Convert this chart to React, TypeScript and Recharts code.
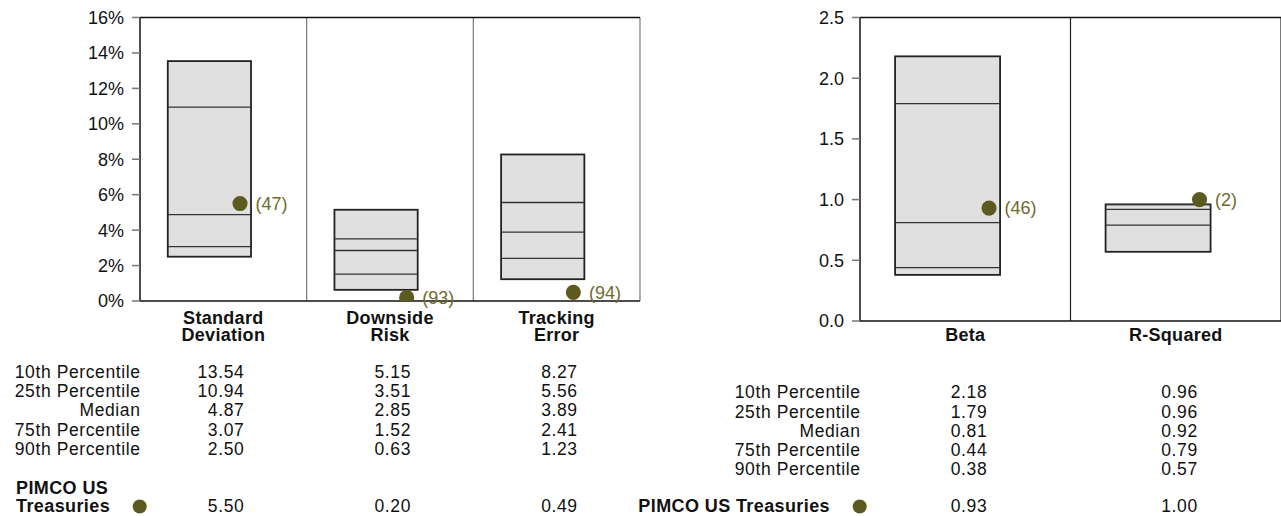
import {
  Bar,
  CartesianGrid,
  ComposedChart,
  LabelList,
  ReferenceLine,
  Scatter,
  XAxis,
  YAxis,
  ZAxis,
} from "recharts";

// risk panel (percent)
const riskNames = ["Standard Deviation", "Downside Risk", "Tracking Error"];
const riskP10 = [13.54, 5.15, 8.27];
const riskP25 = [10.94, 3.51, 5.56];
const riskMedian = [4.87, 2.85, 3.89];
const riskP75 = [3.07, 1.52, 2.41];
const riskP90 = [2.5, 0.63, 1.23];
const riskFund = [5.5, 0.2, 0.49];
const riskRank = [47, 93, 94];
const riskTicks = [0, 2, 4, 6, 8, 10, 12, 14, 16];

// ratio panel
const ratioNames = ["Beta", "R-Squared"];
const ratioP10 = [2.18, 0.96];
const ratioP25 = [1.79, 0.96];
const ratioMedian = [0.81, 0.92];
const ratioP75 = [0.44, 0.79];
const ratioP90 = [0.38, 0.57];
const ratioFund = [0.93, 1.0];
const ratioRank = [46, 2];
const ratioTicks = [0, 0.5, 1, 1.5, 2, 2.5];

const rowLabels = ["10th Percentile", "25th Percentile", "Median", "75th Percentile", "90th Percentile"];
const fundName = "PIMCO US Treasuries";

const FONT = "'Liberation Sans', Arial, Helvetica, sans-serif";
const OLIVE = "#5d5a1f";
const OLIVE_TEXT = "#6d6b2b";
const BOX_FILL = "#e0e0e0";

type Row = { name: string; p10: number; p25: number; median: number; p75: number; p90: number };

function BoxShape(props: any) {
  const { x, y, width, height, payload } = props;
  const top = Math.min(y, y + height);
  const h = Math.abs(height);
  const w = width * 0.75;
  const span = payload.p10 - payload.p90;
  const yOf = (v: number) => top + (h * (payload.p10 - v)) / span;
  return (
    <g>
      <rect x={x} y={top} width={w} height={h} fill={BOX_FILL} stroke="#222" strokeWidth={1.8} />
      {[payload.p25, payload.median, payload.p75].map((v: number, i: number) => (
        <line key={i} x1={x} x2={x + w} y1={yOf(v)} y2={yOf(v)} stroke="#333" strokeWidth={1.3} />
      ))}
    </g>
  );
}

function CategoryTick({ x, y, payload, firstDy }: any) {
  const words = String(payload.value).split(" ");
  return (
    <text x={x} y={y + firstDy} textAnchor="middle" fontSize={18} fontWeight="bold" fill="#111" letterSpacing={0.3}>
      {words.map((w, i) => (
        <tspan key={i} x={x} dy={i === 0 ? 0 : 17.6}>
          {w}
        </tspan>
      ))}
    </text>
  );
}

function Panel({
  names, p10, p25, median, p75, p90, fund, rank, ticks, fmt,
  left, width, height, axisWidth, dividerColor, labelDy, dotPos,
}: any) {
  const rows: Row[] = names.map((n: string, i: number) => ({
    name: n, p10: p10[i], p25: p25[i], median: median[i], p75: p75[i], p90: p90[i],
  }));
  const points = fund.map((v: number, i: number) => ({ x: i + dotPos, y: v, rank: rank[i] }));
  const n = names.length;
  return (
    <div style={{ position: "absolute", left, top: 0 }}>
      <ComposedChart
        width={width}
        height={height}
        data={rows}
        margin={{ top: 17.5, right: 1, bottom: 4, left: 0 }}
        barCategoryGap="16.667%"
      >
        <CartesianGrid
          horizontal={false}
          stroke={dividerColor}
          strokeWidth={1.2}
          verticalCoordinatesGenerator={({ offset }: any) =>
            Array.from({ length: n }, (_, i) => offset.left + ((i + 1) * offset.width) / n)
          }
        />
        <XAxis
          dataKey="name"
          interval={0}
          height={50}
          tickSize={0}
          tickLine={false}
          axisLine={{ stroke: "#111", strokeWidth: 1.5 }}
          tick={<CategoryTick firstDy={labelDy} />}
        />
        <XAxis xAxisId="pt" type="number" dataKey="x" domain={[0, n]} hide allowDataOverflow />
        <YAxis
          width={axisWidth}
          domain={[ticks[0], ticks[ticks.length - 1]]}
          ticks={ticks}
          tickFormatter={fmt}
          tickSize={8}
          tickMargin={8}
          tick={{ fontSize: 18, fill: "#111" }}
          tickLine={{ stroke: "#777", strokeWidth: 1.5 }}
          axisLine={{ stroke: "#111", strokeWidth: 1.5 }}
          allowDataOverflow
        />
        <ZAxis range={[180, 180]} />
        <ReferenceLine y={ticks[ticks.length - 1]} stroke="#111" strokeWidth={1.5} />
        <Bar dataKey={(d: Row) => [d.p90, d.p10]} shape={<BoxShape />} isAnimationActive={false} />
        <Scatter data={points} dataKey="y" xAxisId="pt" fill={OLIVE} isAnimationActive={false}>
          <LabelList
            dataKey="rank"
            position="right"
            offset={8}
            formatter={(v: any) => `(${v})`}
            style={{ fontSize: 18, fill: OLIVE_TEXT }}
          />
        </Scatter>
      </ComposedChart>
    </div>
  );
}

function Tables() {
  const rowStep = 19.2;
  const lp = { x: 140, w: 500, n: 3 };
  const rp = { x: 860, w: 421, n: 2 };
  const leftCols = [riskP10, riskP25, riskMedian, riskP75, riskP90];
  const rightCols = [ratioP10, ratioP25, ratioMedian, ratioP75, ratioP90];
  const colRight = (p: typeof lp, i: number, shift: number) => p.x + ((i + 0.5) * p.w) / p.n + shift;
  const reg = { fontSize: 17.5, letterSpacing: 0.6, fill: "#111" };
  const bold = { fontSize: 18, fontWeight: "bold" as const, letterSpacing: 0.4, fill: "#111" };
  const split = fundName.lastIndexOf(" ");
  return (
    <svg width={1281} height={516} style={{ position: "absolute", left: 0, top: 0, pointerEvents: "none" }}>
      {rowLabels.map((lab, k) => (
        <g key={"l" + k}>
          <text x={lp.x + 0.5} y={378 + k * rowStep} textAnchor="end" {...reg}>{lab}</text>
          {leftCols[k].map((v, i) => (
            <text key={i} x={colRight(lp, i, 21)} y={378 + k * rowStep} textAnchor="end" {...reg}>
              {v.toFixed(2)}
            </text>
          ))}
          <text x={rp.x + 0.5} y={398.3 + k * rowStep} textAnchor="end" {...reg}>{lab}</text>
          {rightCols[k].map((v, i) => (
            <text key={i} x={colRight(rp, i, 22)} y={398.3 + k * rowStep} textAnchor="end" {...reg}>
              {v.toFixed(2)}
            </text>
          ))}
        </g>
      ))}
      <text x={16} y={494.3} {...bold}>{fundName.slice(0, split)}</text>
      <text x={16} y={512.3} {...bold}>{fundName.slice(split + 1)}</text>
      <circle cx={139.7} cy={506.5} r={7} fill={OLIVE} />
      {riskFund.map((v, i) => (
        <text key={"lf" + i} x={colRight(lp, i, 21)} y={512} textAnchor="end" {...reg}>{v.toFixed(2)}</text>
      ))}
      <text x={830} y={512} textAnchor="end" {...bold}>{fundName}</text>
      <circle cx={859.7} cy={506.5} r={7} fill={OLIVE} />
      {ratioFund.map((v, i) => (
        <text key={"rf" + i} x={colRight(rp, i, 22)} y={512} textAnchor="end" {...reg}>{v.toFixed(2)}</text>
      ))}
    </svg>
  );
}

export default function App() {
  return (
    <div style={{ position: "relative", width: 1281, height: 516, overflow: "hidden", background: "#fff", fontFamily: FONT }}>
      <style>{"body{margin:0}"}</style>
      <Panel
        names={riskNames} p10={riskP10} p25={riskP25} median={riskMedian} p75={riskP75} p90={riskP90}
        fund={riskFund} rank={riskRank} ticks={riskTicks} fmt={(v: number) => `${v}%`}
        left={0} width={641} height={355} axisWidth={140} dividerColor="#777" labelDy={20.7} dotPos={0.6}
      />
      <Panel
        names={ratioNames} p10={ratioP10} p25={ratioP25} median={ratioMedian} p75={ratioP75} p90={ratioP90}
        fund={ratioFund} rank={ratioRank} ticks={ratioTicks} fmt={(v: number) => v.toFixed(1)}
        left={640} width={642} height={375} axisWidth={220} dividerColor="#222" labelDy={18.3} dotPos={0.613}
      />
      <Tables />
    </div>
  );
}
